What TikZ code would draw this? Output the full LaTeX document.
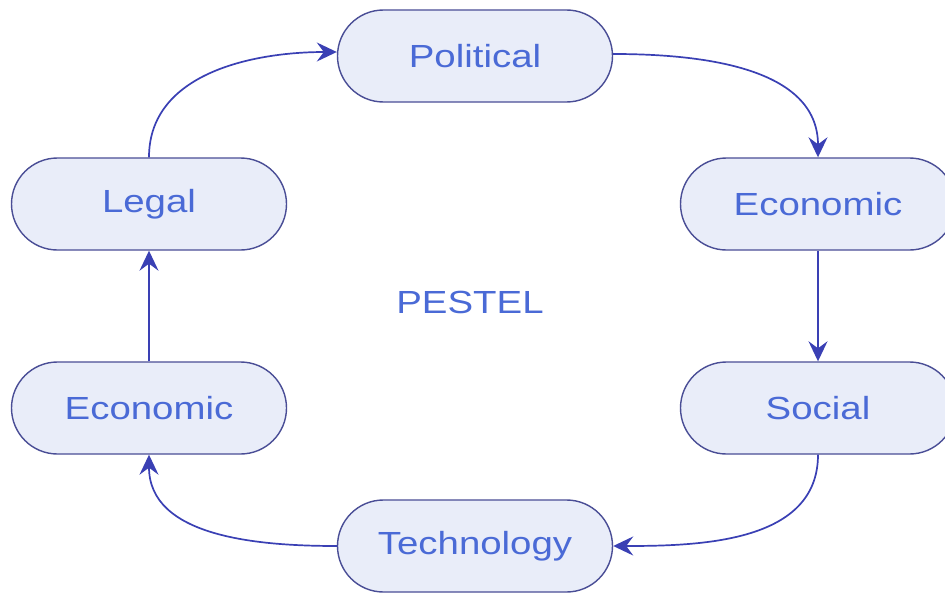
\documentclass[tikz,border=0pt]{standalone}
\usepackage{fontspec}
\newfontfamily\labfont[FakeStretch=1.2]{Liberation Sans}
\usetikzlibrary{arrows.meta}
\definecolor{boxfill}{HTML}{E9EDF9}
\definecolor{boxdraw}{HTML}{4A4E96}
\definecolor{txt}{HTML}{4A6AD6}
\definecolor{arr}{HTML}{3A40B4}
\begin{document}
\begin{tikzpicture}[x=1pt,y=-1pt,
  pill/.style={draw=boxdraw, line width=1.4pt, fill=boxfill, rounded corners=46pt,
    minimum width=275pt, minimum height=92pt, inner sep=0pt,
    font=\labfont\fontsize{32}{36}\selectfont, text=txt},
  conn/.style={draw=arr, line width=1.7pt, -{Stealth[length=20pt,width=19pt,inset=7pt]}},
  lbl/.style={font=\labfont\fontsize{32}{36}\selectfont, text=txt}]
\useasboundingbox (0,0) rectangle (945,594);
\fill[white] (0,0) rectangle (945,594);
\node[pill] (pol) at (475,56) {Political};
\node[pill] (leg) at (149,204) {Legal};
\node[pill] (ecr) at (818,204) {Economic};
\node[pill] (ecl) at (149,408) {Economic};
\node[pill] (soc) at (818,408) {Social};
\node[pill] (tec) at (475,546) {Technology};
\node[lbl] (pes) at (470,302) {PESTEL};
\draw[conn] (leg.north) to[out=90,in=180] ([yshift=4pt]pol.west);
\draw[conn] ([yshift=2pt]pol.east) to[out=0,in=90] (ecr.north);
\draw[conn] (ecr.south) -- (soc.north);
\draw[conn] (soc.south) to[out=-90,in=0] (tec.east);
\draw[conn] (tec.west) to[out=180,in=-90] (ecl.south);
\draw[conn] (ecl.north) -- (leg.south);
\end{tikzpicture}
\end{document}
